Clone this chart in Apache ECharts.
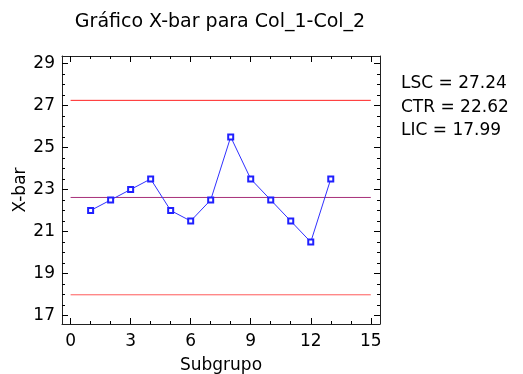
<!DOCTYPE html>
<html>
<head>
<meta charset="utf-8">
<script src="https://cdn.jsdelivr.net/npm/echarts@6/dist/echarts.min.js"></script>
<style>html,body{margin:0;padding:0;background:#fff}#c{width:523px;height:374px}</style>
</head>
<body>
<div id="c"></div>
<script>
const subgroups = [1, 2, 3, 4, 5, 6, 7, 8, 9, 10, 11, 12, 13];
const xbarValues = [22.0, 22.5, 23.0, 23.5, 22.0, 21.5, 22.5, 25.5, 23.5, 22.5, 21.5, 20.5, 23.5];
const LSC = 27.24, CTR = 22.62, LIC = 17.99;
const limitSpan = [0, 15];
const xMajorTicks = [0, 3, 6, 9, 12, 15];
const xMinorTicks = [0, 1, 2, 3, 4, 5, 6, 7, 8, 9, 10, 11, 12, 13, 14, 15];
const yMajorTicks = [17, 19, 21, 23, 25, 27, 29];
const yMinorTicks = [17, 17.5, 18, 18.5, 19, 19.5, 20, 20.5, 21, 21.5, 22, 22.5, 23, 23.5, 24, 24.5, 25, 25.5, 26, 26.5, 27, 27.5, 28, 28.5, 29];
const titleText = 'Gráfico X-bar para Col_1-Col_2';
const xName = 'Subgrupo', yName = 'X-bar';
const statLines = ['LSC = ' + LSC.toFixed(2), 'CTR = ' + CTR.toFixed(2), 'LIC = ' + LIC.toFixed(2)];

const FONT = 'DejaVu Sans';
const XMIN = -0.43, XMAX = 15.46, YMIN = 16.6, YMAX = 29.35;

function xAx(pos, ticks, len, opts) {
  return Object.assign({
    type: 'value', position: pos, min: XMIN, max: XMAX, gridIndex: 0,
    splitLine: {show: false},
    axisLine: {show: false, onZero: false},
    axisTick: {show: true, inside: true, length: len, customValues: ticks, lineStyle: {color: '#000', width: 1}},
    axisLabel: {show: false}
  }, opts || {});
}
function yAx(pos, ticks, len, opts) {
  return Object.assign({
    type: 'value', position: pos, min: YMIN, max: YMAX, gridIndex: 0,
    splitLine: {show: false},
    axisLine: {show: false, onZero: false},
    axisTick: {show: true, inside: true, length: len, customValues: ticks, lineStyle: {color: '#000', width: 1}},
    axisLabel: {show: false}
  }, opts || {});
}

const chart = echarts.init(document.getElementById('c'), null, {renderer: 'canvas'});
const frameLine = {show: true, onZero: false, lineStyle: {color: '#222', width: 1}};
chart.setOption({
  animation: false,
  backgroundColor: '#fff',
  grid: {left: 62, top: 56, width: 318, height: 268, containLabel: false, outerBoundsMode: 'none'},
  xAxis: [
    xAx('bottom', xMajorTicks, 6, {
      axisLine: frameLine,
      axisLabel: {show: true, customValues: xMajorTicks, margin: 9, color: '#000', fontFamily: FONT, fontSize: 17},
      name: xName, nameLocation: 'middle', nameGap: 33, nameMoveOverlap: false,
      nameTextStyle: {color: '#000', fontFamily: FONT, fontSize: 17}
    }),
    xAx('bottom', xMinorTicks, 3),
    xAx('top', xMajorTicks, 6, {axisLine: frameLine}),
    xAx('top', xMinorTicks, 3)
  ],
  yAxis: [
    yAx('left', yMajorTicks, 6, {
      axisLine: frameLine,
      axisLabel: {show: true, customValues: yMajorTicks, margin: 7, color: '#000', fontFamily: FONT, fontSize: 17},
      name: yName, nameLocation: 'middle', nameGap: 33, nameRotate: 90, nameMoveOverlap: false,
      nameTextStyle: {color: '#000', fontFamily: FONT, fontSize: 17}
    }),
    yAx('left', yMinorTicks, 3),
    yAx('right', yMajorTicks, 6, {axisLine: frameLine}),
    yAx('right', yMinorTicks, 3)
  ],
  graphic: [
    {type: 'text', x: 220, y: 22, style: {text: titleText, fill: '#000', font: '19px "' + FONT + '"', textAlign: 'center', textVerticalAlign: 'middle'}},
    {type: 'text', x: 401, y: 84, style: {text: statLines[0], fill: '#000', font: '17px "' + FONT + '"', textAlign: 'left', textVerticalAlign: 'middle'}},
    {type: 'text', x: 401, y: 107.5, style: {text: statLines[1], fill: '#000', font: '17px "' + FONT + '"', textAlign: 'left', textVerticalAlign: 'middle'}},
    {type: 'text', x: 401, y: 130.5, style: {text: statLines[2], fill: '#000', font: '17px "' + FONT + '"', textAlign: 'left', textVerticalAlign: 'middle'}}
  ],
  series: [
    {type: 'line', xAxisIndex: 0, yAxisIndex: 0, silent: true, symbol: 'none',
     lineStyle: {color: '#ff2020', width: 1}, data: limitSpan.map(x => [x, LSC]), z: 2},
    {type: 'line', xAxisIndex: 0, yAxisIndex: 0, silent: true, symbol: 'none',
     lineStyle: {color: '#a8307a', width: 1}, data: limitSpan.map(x => [x, CTR]), z: 2},
    {type: 'line', xAxisIndex: 0, yAxisIndex: 0, silent: true, symbol: 'none',
     lineStyle: {color: '#ff5a5a', width: 1}, data: limitSpan.map(x => [x, LIC]), z: 2},
    {type: 'line', xAxisIndex: 0, yAxisIndex: 0, silent: true,
     symbol: 'emptyRect', symbolSize: 5, showAllSymbol: true,
     itemStyle: {color: '#2020ff', borderWidth: 1},
     lineStyle: {color: '#3030ff', width: 1},
     data: subgroups.map((s, i) => [s, xbarValues[i]]), z: 3}
  ]
});
</script>
</body>
</html>
